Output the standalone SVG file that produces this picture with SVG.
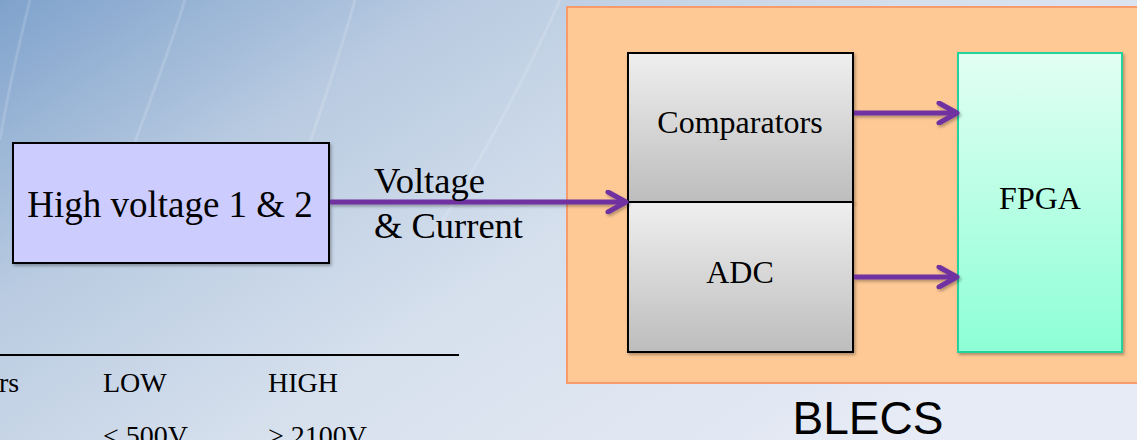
<svg xmlns="http://www.w3.org/2000/svg" width="1137" height="440" viewBox="0 0 1137 440">
<defs>
<linearGradient id="bg" x1="0" y1="0" x2="1" y2="0.6">
<stop offset="0" stop-color="#7fa2cc"/>
<stop offset="0.3" stop-color="#b9cbe1"/>
<stop offset="0.6" stop-color="#d6e0ed"/>
<stop offset="1" stop-color="#e6ebf5"/>
</linearGradient>
<linearGradient id="gray" x1="0" y1="0" x2="0" y2="1">
<stop offset="0" stop-color="#efefef"/>
<stop offset="1" stop-color="#bdbdbd"/>
</linearGradient>
<linearGradient id="teal" x1="0" y1="0" x2="0" y2="1">
<stop offset="0" stop-color="#e2fff3"/>
<stop offset="1" stop-color="#8dffd6"/>
</linearGradient>
<filter id="sh" x="-10%" y="-10%" width="130%" height="130%">
<feDropShadow dx="1.5" dy="2" stdDeviation="1.5" flood-color="#000" flood-opacity="0.3"/>
</filter>
<marker id="arr" viewBox="0 0 24 24" refX="21" refY="12" markerWidth="24" markerHeight="24" markerUnits="userSpaceOnUse" orient="auto">
<path d="M3,2 L21,12 L3,22" fill="none" stroke="#7030a0" stroke-width="5" stroke-linecap="round" stroke-linejoin="round"/>
</marker>
</defs>
<style>
.t{font-family:"Liberation Serif","Times New Roman",serif;fill:#000}
.conn{stroke:#7030a0;stroke-width:5;fill:none;marker-end:url(#arr)}
</style>
<rect width="1137" height="440" fill="url(#bg)"/>
<g fill="none" stroke="#ffffff" stroke-opacity="0.15" stroke-width="3">
<path d="M30,0 C15,60 5,110 0,140"/>
<path d="M185,0 C160,80 130,150 115,200"/>
<path d="M355,0 C330,90 300,170 280,230"/>
<path d="M560,0 C520,90 470,180 430,240"/>
</g>
<g id="blecs">
<rect x="567" y="7" width="580" height="376" fill="#fec995" stroke="#f79b6c" stroke-width="2"/>
<text x="868" y="434" font-family="Liberation Sans, Arial, sans-serif" font-size="46" text-anchor="middle" fill="#000">BLECS</text>
</g>
<g id="hv">
<rect x="13" y="143" width="316" height="120" fill="#ccccff" stroke="#000" stroke-width="2" filter="url(#sh)"/>
<text class="t" x="170" y="217" font-size="37" text-anchor="middle">High voltage 1 &amp; 2</text>
</g>
<g id="comparators">
<rect x="628" y="53" width="225" height="149" fill="url(#gray)" stroke="#000" stroke-width="2" filter="url(#sh)"/>
<text class="t" x="740" y="133" font-size="32" text-anchor="middle">Comparators</text>
</g>
<g id="adc">
<rect x="628" y="202" width="225" height="150" fill="url(#gray)" stroke="#000" stroke-width="2" filter="url(#sh)"/>
<text class="t" x="740" y="283" font-size="32" text-anchor="middle">ADC</text>
</g>
<g id="fpga">
<rect x="958" y="53" width="164" height="299" fill="url(#teal)" stroke="#20d49c" stroke-width="2" filter="url(#sh)"/>
<text class="t" x="1040" y="209" font-size="32" text-anchor="middle">FPGA</text>
</g>
<g id="connectors" filter="url(#sh)">
<line class="conn" x1="330" y1="202" x2="626" y2="202"/>
<line class="conn" x1="854" y1="113" x2="957" y2="113"/>
<line class="conn" x1="854" y1="277" x2="957" y2="277"/>
</g>
<g id="label">
<text class="t" x="374" y="193" font-size="36.5">Voltage</text>
<text class="t" x="374" y="238" font-size="36.5">&amp; Current</text>
</g>
<g id="table">
<line x1="0" y1="355" x2="459" y2="355" stroke="#000" stroke-width="2"/>
<text class="t" x="-1" y="392" font-size="28">rs</text>
<text class="t" x="103" y="392" font-size="28">LOW</text>
<text class="t" x="268" y="392" font-size="28">HIGH</text>
<text class="t" x="103" y="445" font-size="28">&lt; 500V</text>
<text class="t" x="268" y="445" font-size="28">&gt; 2100V</text>
</g>
</svg>
